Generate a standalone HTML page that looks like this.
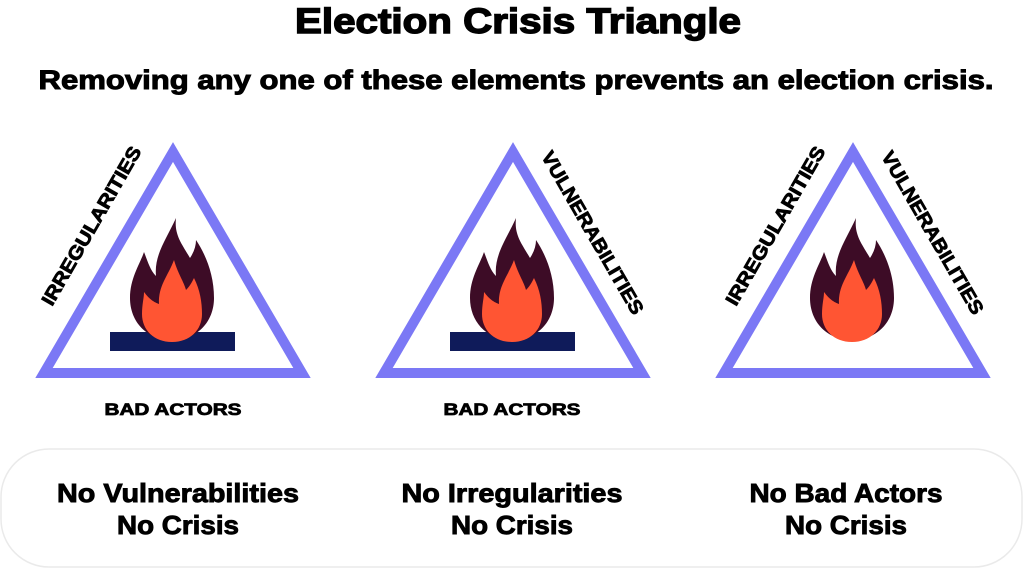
<!DOCTYPE html>
<html><head><meta charset="utf-8"><style>
html,body{margin:0;padding:0;background:#fff;width:1024px;height:580px;overflow:hidden}
svg{display:block}
</style></head><body>
<svg width="1024" height="580" viewBox="0 0 1024 580" xmlns="http://www.w3.org/2000/svg">
<defs>
<g id="flame">
<path fill="#3d0c26" d="M0,0 C-25,0 -42,-18 -42,-42 C-42,-62 -32,-76 -28,-88 C-24,-78 -22,-70 -16,-64 C-18,-85 -6,-100 4,-122 C2,-105 10,-96 18,-82 C22,-88 24,-94 24,-100 C34,-85 42,-65 42,-42 C42,-18 25,0 0,0 Z"/>
<path fill="#ff5533" d="M0,2 C-18,2 -30,-10 -30,-26 C-30,-36 -28,-42 -28,-48 C-22,-40 -18,-38 -13,-36 C-14,-54 -4,-64 2,-80 C6,-66 12,-58 14,-50 C18,-54 20,-58 22,-62 C28,-50 30,-38 30,-26 C30,-10 18,2 0,2Z"/>
</g>
</defs>
<g font-family="Liberation Sans, sans-serif" font-weight="bold" fill="#000" stroke="#000" text-anchor="middle" lengthAdjust="spacingAndGlyphs">
<text x="518" y="33" font-size="35" stroke-width="1.4" textLength="446" lengthAdjust="spacingAndGlyphs">Election Crisis Triangle</text>
<text x="516" y="89" font-size="27" stroke-width="1" textLength="955" lengthAdjust="spacingAndGlyphs">Removing any one of these elements prevents an election crisis.</text>
</g>
<rect x="1" y="449" width="1021" height="118" rx="48" fill="#fff" stroke="#eaeaea" stroke-width="1.5"/>

<g fill="none" stroke="#7b78f5" stroke-width="10" stroke-linejoin="miter">
<polygon points="173,152 44,373 302,373"/>
<polygon points="513,152 384,373 642,373"/>
<polygon points="853,152 724,373 982,373"/>
</g>
<rect x="110" y="332" width="125" height="19" fill="#0f1b5a"/>
<rect x="450" y="332" width="125" height="19" fill="#0f1b5a"/>
<use href="#flame" transform="translate(172,340)"/>
<use href="#flame" transform="translate(512,340)"/>
<use href="#flame" transform="translate(852,340)"/>

<g font-family="Liberation Sans, sans-serif" font-weight="bold" font-size="19" fill="#000" stroke="#000" stroke-width="0.8" text-anchor="middle">
<text transform="translate(97,229) rotate(-60)" textLength="180" lengthAdjust="spacingAndGlyphs">IRREGULARITIES</text>
<text transform="translate(587,236) rotate(60)" textLength="185" lengthAdjust="spacingAndGlyphs">VULNERABILITIES</text>
<text transform="translate(781,229) rotate(-60)" textLength="180" lengthAdjust="spacingAndGlyphs">IRREGULARITIES</text>
<text transform="translate(927,236) rotate(60)" textLength="185" lengthAdjust="spacingAndGlyphs">VULNERABILITIES</text>
<text x="173" y="415" font-size="17" textLength="137" lengthAdjust="spacingAndGlyphs">BAD ACTORS</text>
<text x="512" y="415" font-size="17" textLength="137" lengthAdjust="spacingAndGlyphs">BAD ACTORS</text>
</g>
<g font-family="Liberation Sans Narrow, Liberation Sans, sans-serif" font-weight="bold" font-size="26" fill="#000" stroke="#000" stroke-width="0.9" text-anchor="middle">
<text x="178" y="502" textLength="242" lengthAdjust="spacingAndGlyphs">No Vulnerabilities</text>
<text x="178" y="534" textLength="122" lengthAdjust="spacingAndGlyphs">No Crisis</text>
<text x="512" y="502" textLength="221" lengthAdjust="spacingAndGlyphs">No Irregularities</text>
<text x="512" y="534" textLength="122" lengthAdjust="spacingAndGlyphs">No Crisis</text>
<text x="846" y="502" textLength="193" lengthAdjust="spacingAndGlyphs">No Bad Actors</text>
<text x="846" y="534" textLength="122" lengthAdjust="spacingAndGlyphs">No Crisis</text>
</g>
</svg>
</body></html>
